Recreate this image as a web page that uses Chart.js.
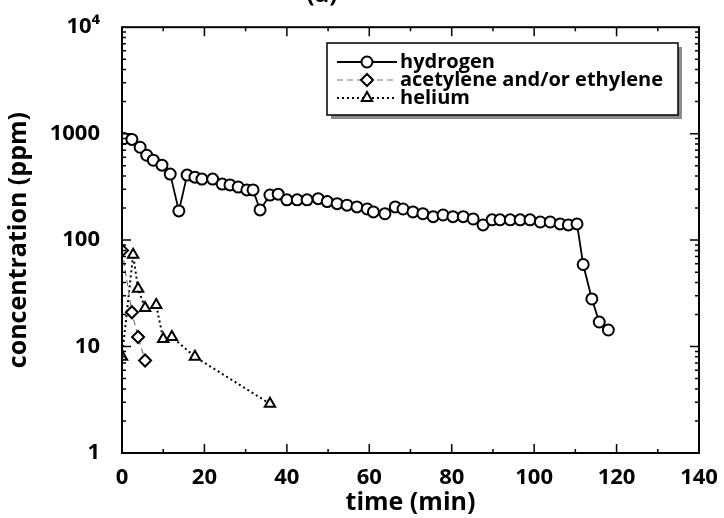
<!DOCTYPE html>
<html>
<head>
<meta charset="utf-8">
<script src="https://cdn.jsdelivr.net/npm/chart.js@4/dist/chart.umd.min.js"></script>
<style>
  html, body { margin: 0; padding: 0; background: #fff; }
</style>
</head>
<body>
<canvas id="conc" width="724" height="518"></canvas>
<script>
// values
const hydrogenTime = [0.5, 2.4, 4.4, 6, 7.6, 9.7, 11.7, 13.8, 15.8, 17.7,
  19.4, 22, 24.3, 26.2, 28.2, 30.3, 31.8, 33.5, 35.9, 37.9,
  40, 42.5, 44.9, 47.6, 49.8, 52.2, 54.6, 57, 59.5, 61,
  63.8, 66.3, 68.2, 70.6, 73, 75.5, 77.9, 80.3, 82.8, 85.2,
  87.6, 89.8, 91.7, 94.2, 96.6, 99, 101.5, 103.9, 106.3, 108.3,
  110.4, 111.9, 114, 115.8, 118];
const hydrogenPpm = [900, 883, 745, 627, 563, 506, 417, 188, 408, 390,
  374, 374, 336, 330, 315, 296, 296, 192, 265, 270,
  239, 239, 239, 245, 230, 220, 213, 205, 196, 184,
  177, 205, 196, 184, 177, 166, 172, 166, 166, 158,
  139, 155, 155, 155, 155, 155, 148, 148, 142, 139,
  142, 59, 28, 17, 14.3];
const acetyleneTime = [0, 2.4, 3.9, 5.6];
const acetylenePpm = [80, 21, 12.3, 7.4];
const heliumTime = [0, 2.7, 3.9, 5.6, 8.3, 10, 12.1, 17.7, 35.9];
const heliumPpm = [8, 73, 35, 23, 24.5, 11.8, 12.3, 8, 2.9];

const seriesNames = ['hydrogen', 'acetylene and/or ethylene', 'helium'];
const yTicks = [1, 10, 100, 1000, 10000];
const yTickLabels = ['1', '10', '100', '1000', '10\u2074'];

const FONT = '"Open Sans", Lato, sans-serif';

function pts(xs, ys) {
  return xs.map((x, i) => ({ x: x, y: ys[i] }));
}

// frame + inward ticks on all four sides
const framePlugin = {
  id: 'frame',
  afterDatasetsDraw(chart) {
    const ctx = chart.ctx;
    const a = chart.chartArea;
    const xs = chart.scales.x, ys = chart.scales.y;
    ctx.save();
    ctx.strokeStyle = '#000';
    ctx.lineWidth = 2;
    ctx.strokeRect(a.left, a.top, a.right - a.left, a.bottom - a.top);
    ctx.lineWidth = 1.5;
    ctx.beginPath();
    for (let v = 0; v <= 140; v += 10) {
      const px = xs.getPixelForValue(v);
      const len = v % 20 === 0 ? 9 : 4;
      ctx.moveTo(px, a.bottom); ctx.lineTo(px, a.bottom - len);
      ctx.moveTo(px, a.top); ctx.lineTo(px, a.top + len);
    }
    for (let d = 1; d <= 1000; d *= 10) {
      for (let m = 1; m <= 9; m++) {
        const py = ys.getPixelForValue(d * m);
        const len = m === 1 ? 9 : 4;
        ctx.moveTo(a.left, py); ctx.lineTo(a.left + len, py);
        ctx.moveTo(a.right, py); ctx.lineTo(a.right - len, py);
      }
    }
    ctx.stroke();
    // panel label, cut off at the top edge as in the scan
    ctx.fillStyle = '#000';
    ctx.font = 'bold 24px ' + FONT;
    ctx.textAlign = 'center';
    ctx.textBaseline = 'bottom';
    ctx.fillText('(a)', 322, 7);
    ctx.restore();
  }
};

// boxed legend with shadow, drawn like the original figure
const legendPlugin = {
  id: 'boxLegend',
  afterDraw(chart) {
    const ctx = chart.ctx;
    const bx = 327, by = 43, bw = 351, bh = 72;
    ctx.save();
    ctx.fillStyle = '#8a8a8a';
    ctx.fillRect(bx + 4, by + 4, bw, bh);
    ctx.fillStyle = '#fff';
    ctx.fillRect(bx, by, bw, bh);
    ctx.strokeStyle = '#000';
    ctx.lineWidth = 1.5;
    ctx.strokeRect(bx, by, bw, bh);
    ctx.font = 'bold 20px ' + FONT;
    ctx.textBaseline = 'middle';
    chart.data.datasets.forEach((ds, i) => {
      const y = by + 19 + i * 18;
      ctx.strokeStyle = ds.borderColor;
      ctx.lineWidth = ds.borderWidth;
      ctx.setLineDash(ds.borderDash || []);
      ctx.beginPath();
      ctx.moveTo(bx + 10, y); ctx.lineTo(bx + 70, y);
      ctx.stroke();
      ctx.setLineDash([]);
      ctx.fillStyle = '#fff';
      ctx.strokeStyle = '#000';
      ctx.lineWidth = ds.pointBorderWidth;
      Chart.helpers.drawPoint(ctx, {
        pointStyle: ds.pointStyle, radius: ds.pointRadius,
        borderWidth: ds.pointBorderWidth, rotation: 0
      }, bx + 40, y);
      ctx.fillStyle = '#000';
      ctx.fillText(ds.label, bx + 73, y);
    });
    ctx.restore();
  }
};

new Chart(document.getElementById('conc'), {
  type: 'scatter',
  data: {
    datasets: [{
      label: seriesNames[0],
      data: pts(hydrogenTime, hydrogenPpm),
      showLine: true,
      borderColor: '#000',
      borderWidth: 1.8,
      pointStyle: 'circle',
      pointRadius: 5.5,
      pointBorderWidth: 2,
      pointBorderColor: '#000',
      pointBackgroundColor: '#fff'
    }, {
      label: seriesNames[1],
      data: pts(acetyleneTime, acetylenePpm),
      showLine: true,
      borderColor: '#777',
      borderWidth: 1.2,
      borderDash: [6, 4],
      pointStyle: 'rectRot',
      pointRadius: 6,
      pointBorderWidth: 2,
      pointBorderColor: '#000',
      pointBackgroundColor: '#fff'
    }, {
      label: seriesNames[2],
      data: pts(heliumTime, heliumPpm),
      showLine: true,
      borderColor: '#000',
      borderWidth: 2,
      borderDash: [2, 3],
      pointStyle: 'triangle',
      pointRadius: 6,
      pointBorderWidth: 2,
      pointBorderColor: '#000',
      pointBackgroundColor: '#fff'
    }]
  },
  options: {
    responsive: false,
    animation: false,
    devicePixelRatio: 1,
    layout: { padding: { top: 24, right: 25, left: 0, bottom: 0 } },
    plugins: {
      legend: { display: false },
      tooltip: { enabled: false }
    },
    scales: {
      x: {
        type: 'linear',
        min: 0, max: 140,
        grid: { display: false },
        border: { display: false },
        ticks: {
          stepSize: 20,
          padding: 4,
          color: '#000',
          font: { family: FONT, size: 22, weight: 'bold' }
        },
        title: {
          display: true,
          text: 'time (min)',
          color: '#000',
          padding: { top: 8, bottom: 0 },
          font: { family: FONT, size: 25, weight: 'bold' }
        },
        afterFit(s) { s.height = 65; }
      },
      y: {
        type: 'logarithmic',
        min: 1, max: 10000,
        grid: { display: false },
        border: { display: false },
        afterBuildTicks(s) { s.ticks = yTicks.map(v => ({ value: v })); },
        ticks: {
          padding: 14,
          color: '#000',
          font: { family: FONT, size: 22, weight: 'bold' },
          callback(v) {
            const i = yTicks.indexOf(v);
            return i >= 0 ? yTickLabels[i] : '';
          }
        },
        title: {
          display: true,
          text: 'concentration (ppm)',
          color: '#000',
          padding: { top: 4, bottom: 0 },
          font: { family: FONT, size: 25, weight: 'bold' }
        },
        afterFit(s) { s.width = 122; }
      }
    }
  },
  plugins: [framePlugin, legendPlugin]
});
</script>
</body>
</html>
